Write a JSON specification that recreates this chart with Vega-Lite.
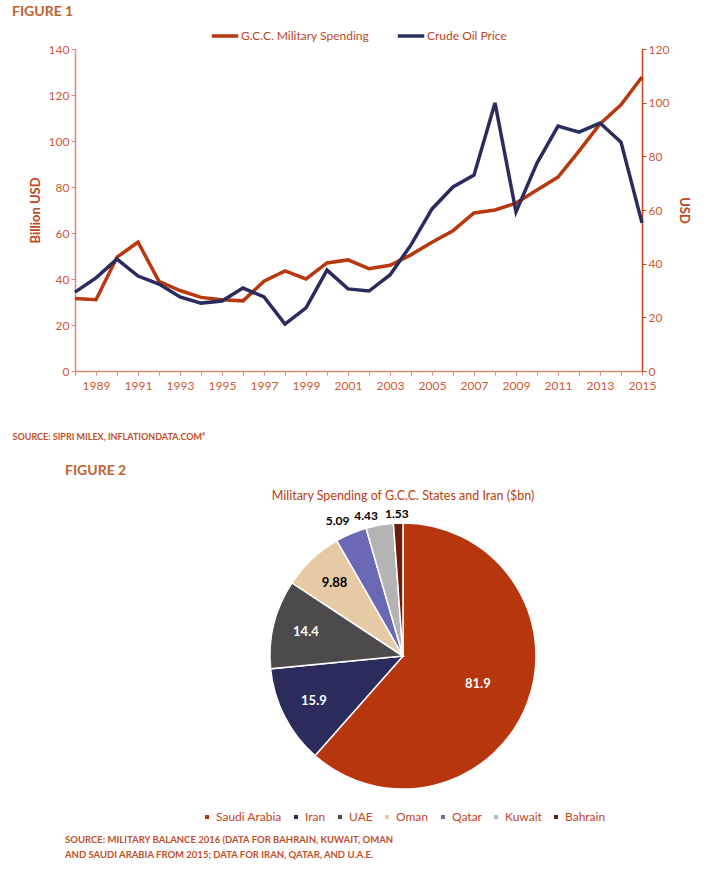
{
  "$schema": "https://vega.github.io/schema/vega-lite/v6.json",
  "background": "white",
  "padding": {"left": 12, "top": 5, "right": 5, "bottom": 0},
  "title": {"text": "FIGURE 1", "anchor": "start", "fontSize": 14, "color": "#c0622e", "font": "Lato", "fontWeight": "bold", "offset": 2},
  "config": {
    "view": {"stroke": null},
    "font": "Lato",
    "axis": {"labelFont": "Lato", "titleFont": "Lato", "grid": false},
    "legend": {"labelFont": "Lato", "layout": {"top": {"anchor": "middle"}, "bottom": {"anchor": "middle"}}},
    "title": {"font": "Lato"},
    "text": {"font": "Lato"}
  },
  "resolve": {"scale": {"color": "independent"}, "legend": {"color": "independent"}},
  "bounds": "flush",
  "spacing": 152,
  "vconcat": [
    {
      "width": 567,
      "height": 322,
      "data": {"values": [
        {"year": 1988, "military": 31.5, "oil": 29.4},
        {"year": 1989, "military": 31, "oil": 34.7},
        {"year": 1990, "military": 49.5, "oil": 41.7},
        {"year": 1991, "military": 56, "oil": 35.4},
        {"year": 1992, "military": 39, "oil": 32.4},
        {"year": 1993, "military": 35, "oil": 27.6},
        {"year": 1994, "military": 32, "oil": 25.3},
        {"year": 1995, "military": 31, "oil": 26.1},
        {"year": 1996, "military": 30.5, "oil": 30.9},
        {"year": 1997, "military": 39, "oil": 27.6},
        {"year": 1998, "military": 43.5, "oil": 17.5},
        {"year": 1999, "military": 40, "oil": 23.5},
        {"year": 2000, "military": 47, "oil": 37.6},
        {"year": 2001, "military": 48.3, "oil": 30.6},
        {"year": 2002, "military": 44.5, "oil": 29.8},
        {"year": 2003, "military": 46, "oil": 35.8},
        {"year": 2004, "military": 50.5, "oil": 47},
        {"year": 2005, "military": 56, "oil": 60.4},
        {"year": 2006, "military": 61, "oil": 68.6},
        {"year": 2007, "military": 68.7, "oil": 73},
        {"year": 2008, "military": 70, "oil": 99.9},
        {"year": 2009, "military": 73, "oil": 59.3},
        {"year": 2010, "military": 78.7, "oil": 77.5},
        {"year": 2011, "military": 84.3, "oil": 91.3},
        {"year": 2012, "military": 95.6, "oil": 89},
        {"year": 2013, "military": 107.4, "oil": 92.4},
        {"year": 2014, "military": 115.7, "oil": 85.3},
        {"year": 2015, "military": 127.8, "oil": 55.2}
      ]},
      "encoding": {
        "x": {"field": "year", "type": "quantitative", "scale": {"domain": [1988, 2015], "nice": false, "zero": false},
          "axis": {"values": [1988,1989,1990,1991,1992,1993,1994,1995,1996,1997,1998,1999,2000,2001,2002,2003,2004,2005,2006,2007,2008,2009,2010,2011,2012,2013,2014,2015],
            "format": "d", "labelExpr": "datum.value % 2 == 1 ? datum.label : ''", "labelOverlap": false, "labelFlush": false,
            "labelColor": "#cc5a34", "labelFontSize": 12, "labelPadding": 5,
            "domainColor": "#d98c74", "tickColor": "#d98c74", "tickSize": 4, "domainWidth": 1.5,
            "title": "SOURCE: SIPRI MILEX, INFLATIONDATA.COM⁴", "titleX": -63, "titleY": 68, "titleAlign": "left", "titleBaseline": "alphabetic",
            "titleFontSize": 9, "titleFontWeight": "bold", "titleColor": "#c0502a"}}
      },
      "layer": [
        {
          "mark": {"type": "line", "strokeWidth": 3.5},
          "encoding": {
            "y": {"field": "military", "type": "quantitative", "scale": {"domain": [0, 140], "nice": false},
              "axis": {"values": [0,20,40,60,80,100,120,140], "labelColor": "#cc5a34", "labelFontSize": 12,
                "domainColor": "#d98c74", "tickColor": "#d98c74", "tickSize": 4, "domainWidth": 1.5,
                "title": "Billion USD", "titleColor": "#c0461e", "titleFontSize": 13, "titleFontWeight": "bold", "titlePadding": 6}},
            "color": {"datum": "G.C.C. Military Spending", "type": "nominal",
              "scale": {"domain": ["G.C.C. Military Spending", "Crude Oil Price"], "range": ["#b8390f", "#2a2c5e"]},
              "legend": {"orient": "top", "direction": "horizontal", "title": null, "symbolType": "stroke", "symbolStrokeWidth": 3.5, "symbolSize": 700,
                "labelFontSize": 12, "labelColor": "#c0461e", "labelOffset": 1, "columnPadding": 20, "offset": 6}}
          }
        },
        {
          "mark": {"type": "line", "strokeWidth": 3.5},
          "encoding": {
            "y": {"field": "oil", "type": "quantitative", "scale": {"domain": [0, 120], "nice": false},
              "axis": {"orient": "right", "values": [0,20,40,60,80,100,120], "labelColor": "#cc5a34", "labelFontSize": 12,
                "domainColor": "#c0461e", "tickColor": "#c0461e", "tickSize": 4, "domainWidth": 1.5,
                "title": "USD", "titleColor": "#c0461e", "titleFontSize": 13, "titleFontWeight": "bold", "titlePadding": 8}},
            "color": {"datum": "Crude Oil Price", "type": "nominal"}
          }
        }
      ],
      "resolve": {"scale": {"y": "independent"}}
    },
    {
      "bounds": "flush",
      "resolve": {"scale": {"color": "independent"}, "legend": {"color": "independent"}},
      "title": {"text": ["SOURCE: MILITARY BALANCE 2016 (DATA FOR BAHRAIN, KUWAIT, OMAN", "AND SAUDI ARABIA FROM 2015; DATA FOR IRAN, QATAR, AND U.A.E."],
        "orient": "bottom", "anchor": "start", "frame": "group", "dx": -10, "offset": 12, "fontSize": 9.5, "fontWeight": "bold", "color": "#c0502a", "lineHeight": 15},
      "vconcat": [
        {
          "bounds": "flush",
          "spacing": 0,
          "resolve": {"scale": {"color": "independent"}, "legend": {"color": "independent"}},
          "title": {"text": "FIGURE 2", "anchor": "start", "frame": "group", "dx": -10, "fontSize": 14, "fontWeight": "bold", "color": "#c0622e", "offset": 12},
          "hconcat": [
            {"width": 195, "height": 266, "data": {"values": []}, "mark": {"type": "point", "opacity": 0}, "encoding": {}},
            {
              "width": 266,
              "height": 266,
              "title": {"text": "Military Spending of G.C.C. States and Iran ($bn)", "fontSize": 12.5, "color": "#b8400f", "fontWeight": "normal", "offset": 1},
              "data": {"values": [
                {"country": "Saudi Arabia", "value": 81.9},
                {"country": "Iran", "value": 15.9},
                {"country": "UAE", "value": 14.4},
                {"country": "Oman", "value": 9.88},
                {"country": "Qatar", "value": 5.09},
                {"country": "Kuwait", "value": 4.43},
                {"country": "Bahrain", "value": 1.53}
              ]},
              "encoding": {
                "theta": {"field": "value", "type": "quantitative", "stack": true},
                "order": {"field": "value", "sort": "descending"}
              },
              "layer": [
                {
                  "mark": {"type": "arc", "stroke": "white", "strokeWidth": 1.5},
                  "encoding": {
                    "color": {"field": "country", "type": "nominal",
                      "scale": {"domain": ["Saudi Arabia", "Iran", "UAE", "Oman", "Qatar", "Kuwait", "Bahrain"],
                        "range": ["#b8360e", "#2b2c5c", "#4d4a4b", "#e6caa6", "#6b68b5", "#b4b4b4", "#6b1c0b"]},
                      "legend": {"orient": "bottom", "direction": "horizontal", "title": null, "symbolType": "square", "symbolSize": 30,
                        "labelFontSize": 12, "labelColor": "#c0461e", "columnPadding": 8, "labelOffset": 3, "offset": 22}}
                  }
                },
                {
                  "mark": {"type": "text", "radius": 80, "fontSize": 13, "fontWeight": "bold", "color": "white"},
                  "encoding": {
                    "text": {"condition": {"test": "datum.value > 50", "field": "value", "type": "nominal"}, "value": ""}
                  }
                },
                {
                  "mark": {"type": "text", "radius": 100, "fontSize": 13, "fontWeight": "bold"},
                  "encoding": {
                    "text": {"condition": {"test": "datum.value > 9 && datum.value < 50", "field": "value", "type": "nominal"}, "value": ""},
                    "color": {"condition": {"test": "datum.value > 10", "value": "white"}, "value": "black"}
                  }
                },
                {
                  "mark": {"type": "text", "radius": 147, "dx": -8, "fontSize": 12, "fontWeight": "bold", "color": "black"},
                  "encoding": {
                    "text": {"condition": {"test": "datum.value > 5 && datum.value < 6", "field": "value", "type": "nominal"}, "value": ""}
                  }
                },
                {
                  "mark": {"type": "text", "radius": 142, "dx": -12, "fontSize": 12, "fontWeight": "bold", "color": "black"},
                  "encoding": {
                    "text": {"condition": {"test": "datum.value > 4 && datum.value < 5", "field": "value", "type": "nominal"}, "value": ""}
                  }
                },
                {
                  "mark": {"type": "text", "radius": 142, "dx": -1, "fontSize": 12, "fontWeight": "bold", "color": "black"},
                  "encoding": {
                    "text": {"condition": {"test": "datum.value < 2", "field": "value", "type": "nominal"}, "value": ""}
                  }
                }
              ]
            }
          ]
        }
      ]
    }
  ]
}
